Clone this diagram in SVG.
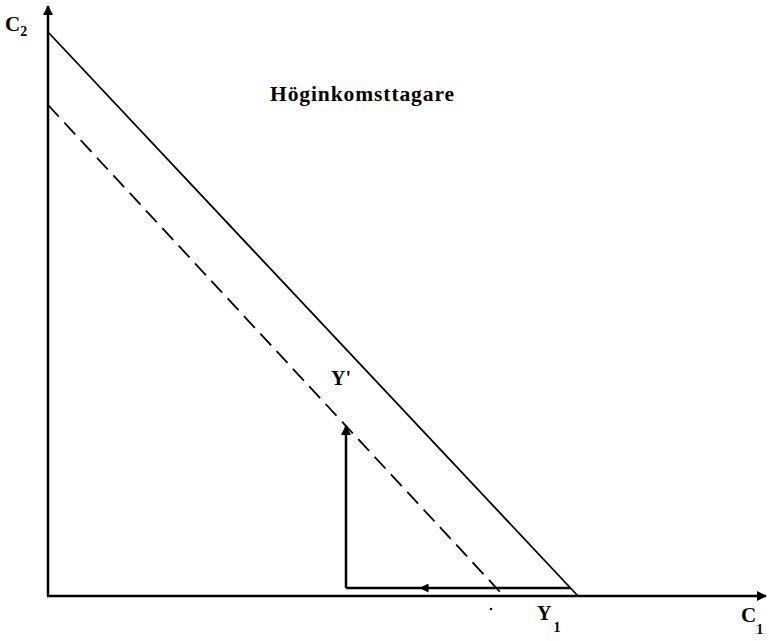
<svg xmlns="http://www.w3.org/2000/svg" width="769" height="641" viewBox="0 0 769 641">
<defs>
<style>
.ax{stroke:#000;stroke-width:2.5;fill:none}
.ln{stroke:#000;stroke-width:1.8;fill:none}
.dash{stroke:#000;stroke-width:1.8;fill:none;stroke-dasharray:16 8}
.t{font-family:"Liberation Serif","Times New Roman",serif;font-weight:bold;fill:#000}
</style>
<marker id="ah" viewBox="0 0 10 10" refX="9" refY="5" markerWidth="4" markerHeight="4" orient="auto" markerUnits="strokeWidth">
<path d="M0,0 L10,5 L0,10 z" fill="#000"/>
</marker>
<marker id="ahs" viewBox="0 0 10 10" refX="5" refY="5" markerWidth="3.6" markerHeight="3.6" orient="auto" markerUnits="strokeWidth">
<path d="M0,0 L10,5 L0,10 z" fill="#000"/>
</marker>
</defs>
<g id="connectors">
<path id="y-axis" class="ax" d="M48,596 L48,6" marker-end="url(#ah)"/>
<path id="x-axis" class="ax" d="M47,596 L766,596" marker-end="url(#ah)"/>
<path id="budget-line" class="ln" d="M48,32 L578,596"/>
<path id="budget-line-dashed" class="dash" d="M48,105 L502,594"/>
<path id="vertical" class="ax" d="M346,588 L346,426" marker-end="url(#ah)"/>
<path id="horizontal" class="ax" d="M570,588 L424,588" marker-end="url(#ahs)"/>
<path id="horizontal2" class="ax" d="M424,588 L346,588"/>
<circle cx="491" cy="609" r="1.2" fill="#000"/>
</g>
<g id="label-c2"><text class="t" x="5" y="31" font-size="21">C<tspan font-size="14" dy="5">2</tspan></text></g>
<g id="label-title"><text class="t" x="270" y="101" font-size="21.5" textLength="184" lengthAdjust="spacing">Höginkomsttagare</text></g>
<g id="label-yprime"><text class="t" x="331" y="385" font-size="20">Y'</text></g>
<g id="label-y1"><text class="t" x="537" y="620" font-size="20">Y<tspan font-size="14" dx="2" dy="12">1</tspan></text></g>
<g id="label-c1"><text class="t" x="741" y="622" font-size="21">C<tspan font-size="14" dy="12">1</tspan></text></g>
</svg>
